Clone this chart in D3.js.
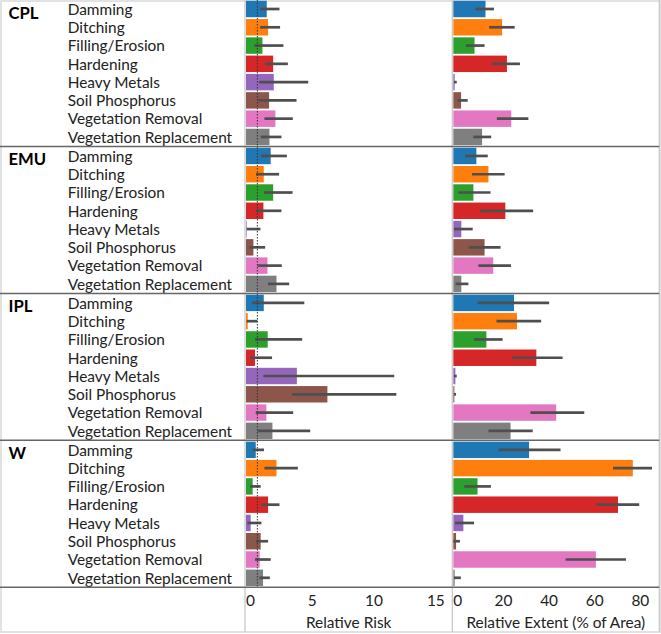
<!DOCTYPE html>
<html>
<head>
<meta charset="utf-8">
<script src="https://cdn.jsdelivr.net/npm/d3@7"></script>
<style>
  html, body { margin: 0; padding: 0; background: #fff; }
  svg { display: block; }
</style>
</head>
<body>
<svg id="chart" width="661" height="634"></svg>
<script>
// ---------------- DATA ----------------
const groups = ["CPL", "EMU", "IPL", "W"];
const categories = ["Damming", "Ditching", "Filling/Erosion", "Hardening", "Heavy Metals",
  "Soil Phosphorus", "Vegetation Removal", "Vegetation Replacement"];
const colors = ["#1f77b4", "#ff7f0e", "#2ca02c", "#d62728", "#9467bd", "#8c564b", "#e377c2", "#7f7f7f"];

// Relative risk (mean, lower CI, upper CI), one row per group
const riskMean = [
  [1.68, 1.79, 1.33, 2.20, 2.25, 1.87, 2.38, 1.90],
  [2.00, 1.44, 2.20, 1.41, 0.05, 0.60, 1.74, 2.47],
  [1.44, 0.14, 1.76, 0.73, 4.12, 6.59, 1.65, 2.14],
  [0.79, 2.47, 0.54, 1.79, 0.38, 1.19, 1.11, 1.38]
];
const riskLow = [
  [1.14, 1.14, 0.68, 1.54, 1.06, 1.00, 1.49, 1.19],
  [1.22, 0.81, 1.46, 0.81, 0.05, 0.27, 0.95, 1.79],
  [0.51, 0.05, 0.73, 0.33, 1.41, 3.71, 0.79, 0.95],
  [0.54, 1.49, 0.33, 1.25, 0.11, 0.81, 0.73, 1.08]
];
const riskHigh = [
  [2.71, 2.76, 3.03, 3.39, 5.04, 4.09, 3.79, 2.87],
  [3.31, 2.68, 3.77, 2.87, 1.17, 1.55, 2.90, 3.50],
  [4.72, 0.92, 4.55, 2.11, 12.0, 12.17, 3.82, 5.20],
  [1.46, 4.20, 1.19, 2.71, 1.25, 1.79, 2.00, 1.93]
];
const riskReference = 0.92;

// Relative extent (% of area)
const extentMean = [
  [14.1, 21.4, 9.3, 23.5, 0.6, 3.4, 25.4, 12.6],
  [10.1, 15.4, 8.8, 22.8, 3.5, 13.7, 17.5, 3.5],
  [26.6, 27.9, 14.5, 36.4, 0.9, 0.45, 45.1, 25.1],
  [33.2, 78.7, 10.6, 72.2, 4.4, 1.2, 62.5, 0.6]
];
const extentLow = [
  [9.6, 15.7, 5.5, 16.9, 0.3, 1.8, 19.1, 8.8],
  [5.2, 8.2, 2.2, 11.8, 0.3, 6.8, 11.0, 1.0],
  [10.7, 18.9, 9.1, 25.7, 0.3, 0.3, 33.8, 15.4],
  [19.8, 70.0, 4.8, 62.7, 0.7, 0.0, 49.2, 0.3]
];
const extentHigh = [
  [17.8, 26.9, 13.7, 29.2, 1.5, 6.3, 32.9, 16.6],
  [15.1, 22.5, 16.3, 35.0, 8.5, 20.7, 25.3, 6.6],
  [42.0, 38.5, 21.6, 47.9, 1.5, 1.2, 57.4, 34.8],
  [47.0, 87.1, 16.5, 81.5, 9.1, 2.9, 75.7, 3.3]
];

const riskTicks = [0, 5, 10, 15];
const extentTicks = [0, 20, 40, 60, 80];
const riskTitle = "Relative Risk";
const extentTitle = "Relative Extent (% of Area)";

// ---------------- LAYOUT ----------------
const svg = d3.select("#chart");
const FONT = "Lato, 'Open Sans', sans-serif";

const panelLeft = 245, panelMid = 452.3, panelRight = 659.3;
const plotTop = -0.5, plotBottom = 587.3;

const yGroup = d3.scaleBand().domain(groups).range([plotTop, plotBottom]);
const yCat = d3.scaleBand().domain(categories).range([0, yGroup.bandwidth()])
  .paddingInner(0.1).paddingOuter(0.07);

const xRisk = d3.scaleLinear().domain([-0.08, 16.7]).range([panelLeft, panelMid]);
const xExt = d3.scaleLinear().domain([-0.45, 90.3]).range([panelMid, panelRight]);

// text measuring for font sizing
function measure(txt, size, weight) {
  const t = svg.append("text").attr("font-family", FONT).attr("font-size", size)
    .attr("font-weight", weight || "normal").text(txt);
  const w = t.node().getComputedTextLength();
  t.remove();
  return w;
}
const catSize = 16 * 164.6 / measure("Vegetation Replacement", 16);
const titleSize = 16 * 179 / measure(extentTitle, 16);
const groupSize = 16 * 30 / measure("CPL", 16, "bold");

// outer frame
svg.append("rect").attr("x", 1).attr("y", 1).attr("width", 659).attr("height", 631)
  .attr("fill", "none").attr("stroke", "#e2e2e2").attr("stroke-width", 2);

// ---------------- LABEL PANEL ----------------
groups.forEach((g, gi) => {
  const g0 = yGroup(g);
  svg.append("text").attr("x", 8.5).attr("y", g0 + 19)
    .attr("font-family", FONT).attr("font-weight", "bold").attr("font-size", groupSize)
    .attr("fill", "#000").text(g);
  categories.forEach((c) => {
    svg.append("text").attr("x", 67.7).attr("y", g0 + yCat(c) + yCat.bandwidth() / 2 + 5.8)
      .attr("font-family", FONT).attr("font-size", catSize).attr("fill", "#222").text(c);
  });
});

// ---------------- BARS ----------------
function drawPanel(x, mean, low, high) {
  const layer = svg.append("g");
  groups.forEach((g, gi) => {
    const g0 = yGroup(g);
    categories.forEach((c, ci) => {
      const y = g0 + yCat(c);
      layer.append("rect")
        .attr("x", x(0)).attr("y", y)
        .attr("width", Math.max(0, x(mean[gi][ci]) - x(0)))
        .attr("height", yCat.bandwidth())
        .attr("fill", colors[ci]);
      layer.append("line")
        .attr("x1", x(low[gi][ci])).attr("x2", x(high[gi][ci]))
        .attr("y1", y + yCat.bandwidth() / 2).attr("y2", y + yCat.bandwidth() / 2)
        .attr("stroke", "#4f4f4f").attr("stroke-width", 2.7);
    });
  });
}
drawPanel(xRisk, riskMean, riskLow, riskHigh);
drawPanel(xExt, extentMean, extentLow, extentHigh);

// reference dotted line
svg.append("line").attr("x1", xRisk(riskReference)).attr("x2", xRisk(riskReference))
  .attr("y1", 0).attr("y2", plotBottom)
  .attr("stroke", "#333").attr("stroke-width", 1).attr("stroke-dasharray", "1.5,1.5");

// ---------------- GRID LINES ----------------
[panelLeft, panelMid, panelRight].forEach(xv => {
  svg.append("line").attr("x1", xv).attr("x2", xv).attr("y1", 0).attr("y2", 632)
    .attr("stroke", "#c9c9c9").attr("stroke-width", 1.3);
});
groups.forEach((g, gi) => {
  if (gi === 0) return;
  svg.append("line").attr("x1", 0).attr("x2", panelRight)
    .attr("y1", yGroup(g)).attr("y2", yGroup(g))
    .attr("stroke", "#666").attr("stroke-width", 1.5);
});
svg.append("line").attr("x1", 0).attr("x2", panelRight)
  .attr("y1", plotBottom).attr("y2", plotBottom)
  .attr("stroke", "#666").attr("stroke-width", 1.5);

// ---------------- AXES ----------------
function drawAxis(x, ticks, title) {
  const ax = svg.append("g").attr("transform", `translate(0,${plotBottom})`)
    .call(d3.axisBottom(x).tickValues(ticks).tickSize(0).tickPadding(0).tickFormat(d3.format("d")));
  ax.select(".domain").remove();
  ax.selectAll("text").attr("font-family", FONT).attr("font-size", catSize)
    .attr("fill", "#222").attr("dy", null).attr("y", 19).attr("dx", 4);
  const r = x.range();
  svg.append("text").attr("x", (r[0] + r[1]) / 2).attr("y", 627.5)
    .attr("text-anchor", "middle").attr("font-family", FONT).attr("font-size", titleSize)
    .attr("fill", "#222").text(title);
}
drawAxis(xRisk, riskTicks, riskTitle);
drawAxis(xExt, extentTicks, extentTitle);
</script>
</body>
</html>
